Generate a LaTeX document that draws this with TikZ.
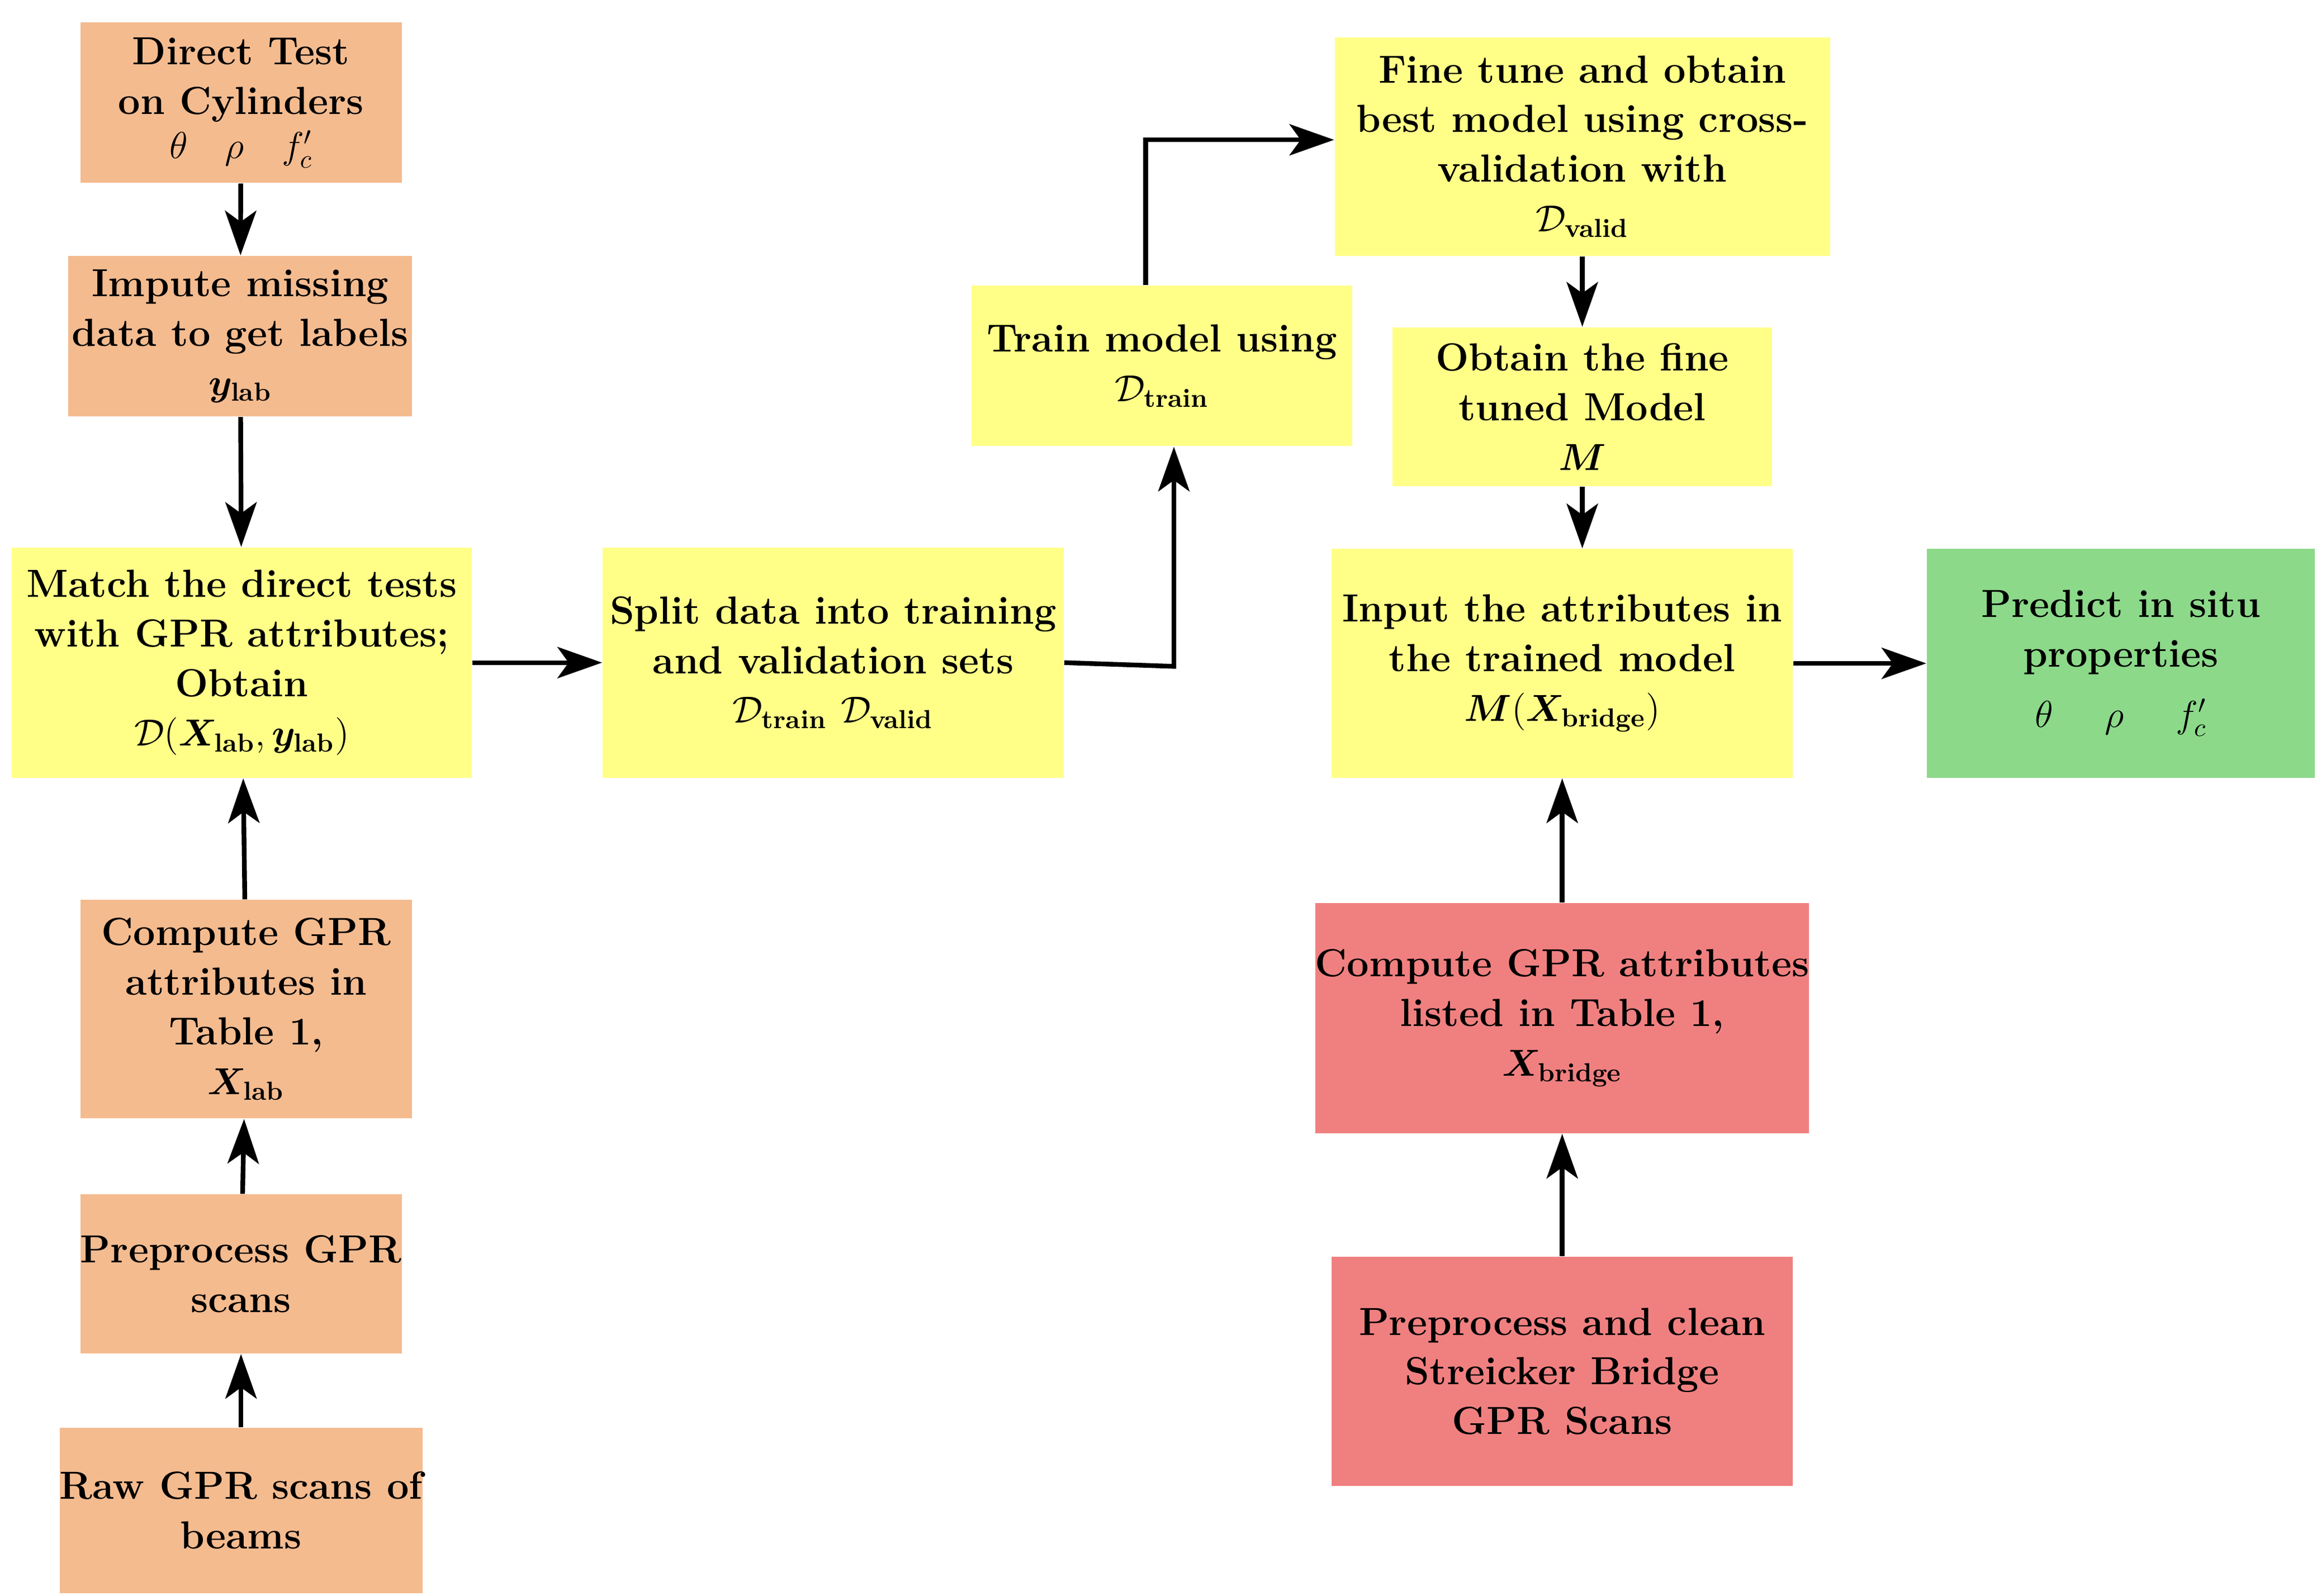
\documentclass[tikz,border=0pt]{standalone}
\usepackage{amsmath,bm}
\usetikzlibrary{arrows.meta}
\definecolor{org}{HTML}{F4BB8F}
\definecolor{yel}{HTML}{FFFF88}
\definecolor{grn}{HTML}{8CD98A}
\definecolor{rd}{HTML}{F08080}
\begin{document}
\begin{tikzpicture}[x=0.02cm,y=-0.02cm,
 box/.style={draw=none,inner sep=0pt,align=center,font=\fontsize{15}{19}\selectfont\bfseries},
 ar/.style={line width=1.8pt,-{Stealth[length=0.6cm,width=0.42cm,inset=0.15cm]}}]
\useasboundingbox (0,0) rectangle (1560,1073);
\newcommand{\bsz}[2]{minimum width=#1*0.02cm,minimum height=#2*0.02cm}
\node[box,fill=org,minimum width=4.32cm,minimum height=2.16cm] (dt) at (162,69) {Direct Test\\on Cylinders\\[-2pt] {\Large$\theta\quad\rho\quad f_c'$}};
\node[box,fill=org,minimum width=4.62cm,minimum height=2.16cm] (im) at (161.5,226) {Impute missing\\data to get labels\\ {\Large$\bm{y}_{\textbf{lab}}$}};
\node[box,fill=yel,minimum width=6.18cm,minimum height=3.1cm] (ma) at (162.5,445.5) {Match the direct tests\\with GPR attributes;\\Obtain\\ {\Large$\mathcal{D}(\bm{X}_{\textbf{lab}},\bm{y}_{\textbf{lab}})$}};
\node[box,fill=org,minimum width=4.46cm,minimum height=2.94cm] (cl) at (165.5,678.5) {Compute GPR\\attributes in\\Table 1,\\ {\Large$\bm{X}_{\textbf{lab}}$}};
\node[box,fill=org,minimum width=4.32cm,minimum height=2.14cm] (pp) at (162,856.5) {Preprocess GPR\\scans};
\node[box,fill=org,minimum width=4.88cm,minimum height=2.22cm] (raw) at (162,1015.5) {Raw GPR scans of\\beams};
\node[box,fill=yel,minimum width=6.2cm,minimum height=3.1cm] (sp) at (560,445.5) {Split data into training\\and validation sets\\ {\Large$\mathcal{D}_{\text{train}}\ \mathcal{D}_{\text{valid}}$}};
\node[box,fill=yel,minimum width=5.12cm,minimum height=2.16cm] (tr) at (781,246) {Train model using\\ {\Large$\mathcal{D}_{\text{train}}$}};
\node[box,fill=yel,minimum width=6.66cm,minimum height=2.94cm] (ft) at (1063.5,98.5) {Fine tune and obtain\\best model using cross-\\validation with\\ {\Large$\mathcal{D}_{\text{valid}}$}};
\node[box,fill=yel,minimum width=5.1cm,minimum height=2.14cm] (ob) at (1063.5,273.5) {Obtain the fine\\tuned Model\\ {\Large$\bm{M}$}};
\node[box,fill=yel,minimum width=6.2cm,minimum height=3.08cm] (in) at (1050,446) {Input the attributes in\\the trained model\\ {\Large$\bm{M}(\bm{X}_{\textbf{bridge}})$}};
\node[box,fill=grn,minimum width=5.22cm,minimum height=3.08cm] (pr) at (1425.5,446) {Predict in situ\\properties\\[4pt] {\Large$\theta\quad\ \rho\quad\ f_c'$}};
\node[box,fill=rd,minimum width=6.2cm,minimum height=3.1cm] (cb) at (1050,684.5) {Compute GPR attributes\\listed in Table 1,\\ {\Large$\bm{X}_{\textbf{bridge}}$}};
\node[box,fill=rd,minimum width=6.2cm,minimum height=3.08cm] (pc) at (1050,922) {Preprocess and clean\\Streicker Bridge\\GPR Scans};
\coordinate (c1) at (789,448);
\coordinate (c2) at (770,94);
\draw[ar] (dt) -- (im);
\draw[ar] (im) -- (ma);
\draw[ar] (cl) -- (ma);
\draw[ar] (pp) -- (cl);
\draw[ar] (raw) -- (pp);
\draw[ar] (ma) -- (sp);
\draw[ar] (sp.east) -- (c1) -- (tr.south -| c1);
\draw[ar] (tr.north -| c2) -- (c2) -- (ft.west |- c2);
\draw[ar] (ft.south) -- (ft.south |- ob.north);
\draw[ar] (ob.south) -- (ob.south |- in.north);
\draw[ar] (in) -- (pr);
\draw[ar] (cb) -- (in);
\draw[ar] (pc) -- (cb);
\end{tikzpicture}
\end{document}
